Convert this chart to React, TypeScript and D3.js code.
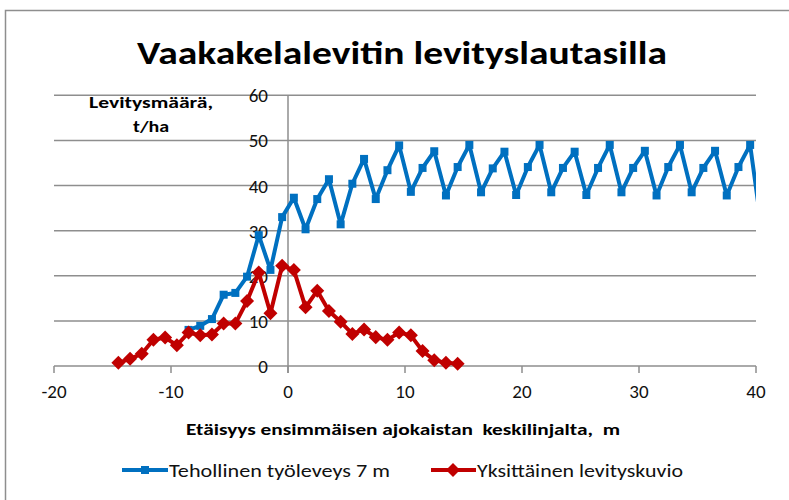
import React from 'react';
import * as d3 from 'd3';

const titleText = 'Vaakakelalevitin levityslautasilla';
const yTitleLines = ['Levitysmäärä,', 't/ha'];
const xTitleText = 'Etäisyys ensimmäisen ajokaistan  keskilinjalta,  m';
const blueName = 'Tehollinen työleveys 7 m';
const redName = 'Yksittäinen levityskuvio';

const xTicks = [-20, -10, 0, 10, 20, 30, 40];
const yTicks = [0, 10, 20, 30, 40, 50, 60];

// Tehollinen työleveys 7 m
const blueX = [
  -8.5, -7.5, -6.5, -5.5, -4.5, -3.5, -2.5, -1.5, -0.5, 0.5,
  1.5, 2.5, 3.5, 4.5, 5.5, 6.5, 7.5, 8.5, 9.5, 10.5,
  11.5, 12.5, 13.5, 14.5, 15.5, 16.5, 17.5, 18.5, 19.5, 20.5,
  21.5, 22.5, 23.5, 24.5, 25.5, 26.5, 27.5, 28.5, 29.5, 30.5,
  31.5, 32.5, 33.5, 34.5, 35.5, 36.5, 37.5, 38.5, 39.5, 40.5,
];
const blueY = [
  8.0, 8.9, 10.4, 15.8, 16.2, 19.8, 29.0, 21.3, 33.0, 37.3,
  30.3, 37.0, 41.4, 31.4, 40.4, 45.9, 37.0, 43.4, 48.9, 38.6,
  43.9, 47.6, 37.8, 44.1, 49.0, 38.5, 43.8, 47.5, 37.9, 44.1,
  49.0, 38.5, 43.9, 47.5, 37.9, 43.9, 49.0, 38.5, 43.9, 47.7,
  37.8, 44.1, 49.0, 38.5, 43.9, 47.7, 37.8, 44.1, 49.0, 30.0,
];

// Yksittäinen levityskuvio
const redX = [
  -14.5, -13.5, -12.5, -11.5, -10.5, -9.5, -8.5, -7.5, -6.5, -5.5,
  -4.5, -3.5, -2.5, -1.5, -0.5, 0.5, 1.5, 2.5, 3.5, 4.5,
  5.5, 6.5, 7.5, 8.5, 9.5, 10.5, 11.5, 12.5, 13.5, 14.5,
];
const redY = [
  0.7, 1.6, 2.7, 5.8, 6.3, 4.6, 7.4, 6.8, 7.0, 9.4,
  9.4, 14.4, 20.7, 11.7, 22.2, 21.3, 13.0, 16.7, 12.2, 9.8,
  7.1, 8.1, 6.4, 5.8, 7.4, 6.8, 3.3, 1.3, 0.7, 0.5,
];

const BLUE = '#0070C0';
const RED = '#C00000';
const GRID = '#8E8E8E';
const FONT = "Carlito, Calibri, 'Liberation Sans', Arial, sans-serif";

const x = d3.scaleLinear().domain([-20, 40]).range([54, 756]);
const y = d3.scaleLinear().domain([0, 60]).range([366, 95.3]);

const line = d3.line<[number, number]>().x(d => x(d[0])).y(d => y(d[1]));
const diamond = d3.symbol().type(d3.symbolDiamond2).size(125)();

export default function App() {
  const bluePts: [number, number][] = blueX.map((v, i) => [v, blueY[i]]);
  const redPts: [number, number][] = redX.map((v, i) => [v, redY[i]]);
  const [x0, x1] = x.range();
  const [yb, yt] = y.range();

  return (
    <svg width={789} height={500} style={{ position: 'absolute', left: 0, top: 0, background: '#fff' }}>
      <defs>
        <clipPath id="plot">
          <rect x={x0 - 10} y={yt - 10} width={x1 - x0 + 10} height={yb - yt + 20} />
        </clipPath>
      </defs>
      {/* outer frame */}
      <path d="M5.5,500 L5.5,10.5 L789,10.5" fill="none" stroke={GRID} strokeWidth={1.5} />

      <text x={402} y={64} textAnchor="middle" fontFamily={FONT} fontWeight="bold" fontSize={33}
        textLength={530} lengthAdjust="spacingAndGlyphs">{titleText}</text>

      {/* grid */}
      {yTicks.map(t => (
        <line key={t} x1={x0} x2={x1} y1={y(t)} y2={y(t)} stroke={GRID} strokeWidth={1.5} />
      ))}
      <line x1={x(0)} x2={x(0)} y1={yt} y2={yb + 7} stroke={GRID} strokeWidth={1.5} />
      {xTicks.map(t => (
        <line key={t} x1={x(t)} x2={x(t)} y1={yb} y2={yb + 7} stroke={GRID} strokeWidth={1.5} />
      ))}

      {/* y tick labels */}
      {yTicks.map(t => (
        <text key={t} x={268} y={y(t) + 7} textAnchor="end" fontFamily={FONT} fontSize={19} fill="#111">{t}</text>
      ))}
      {/* x tick labels */}
      {xTicks.map(t => (
        <text key={t} x={x(t)} y={398} textAnchor="middle" fontFamily={FONT} fontSize={19} fill="#111">{t}</text>
      ))}

      {/* axis titles */}
      {yTitleLines.map((s, i) => (
        <text key={s} x={151} y={108 + i * 24} textAnchor="middle" fontFamily={FONT} fontWeight="bold" fontSize={16}
          textLength={i === 0 ? 124 : 36} lengthAdjust="spacingAndGlyphs">{s}</text>
      ))}
      <text x={403} y={435} textAnchor="middle" fontFamily={FONT} fontWeight="bold" fontSize={16}
        style={{ whiteSpace: 'pre' }} textLength={434} lengthAdjust="spacingAndGlyphs">{xTitleText}</text>

      {/* series */}
      <g clipPath="url(#plot)">
        <path d={line(bluePts) || ''} fill="none" stroke={BLUE} strokeWidth={4} strokeLinejoin="round" />
        {bluePts.filter(p => p[0] <= 40).map((p, i) => (
          <rect key={i} x={x(p[0]) - 4} y={y(p[1]) - 4} width={8} height={8} fill={BLUE} />
        ))}
        <path d={line(redPts) || ''} fill="none" stroke={RED} strokeWidth={4} strokeLinejoin="round" />
        {redPts.map((p, i) => (
          <path key={i} d={diamond} transform={`translate(${x(p[0])},${y(p[1])})`} fill={RED} />
        ))}
      </g>

      {/* legend */}
      <line x1={122} x2={168} y1={470} y2={470} stroke={BLUE} strokeWidth={4} />
      <rect x={141} y={466} width={8} height={8} fill={BLUE} />
      <text x={169} y={477} fontFamily={FONT} fontSize={19} fill="#111" textLength={221} lengthAdjust="spacingAndGlyphs">{blueName}</text>
      <line x1={431} x2={476} y1={470} y2={470} stroke={RED} strokeWidth={4} />
      <path d={diamond} transform="translate(453,470)" fill={RED} />
      <text x={477} y={477} fontFamily={FONT} fontSize={19} fill="#111" textLength={206} lengthAdjust="spacingAndGlyphs">{redName}</text>
    </svg>
  );
}
